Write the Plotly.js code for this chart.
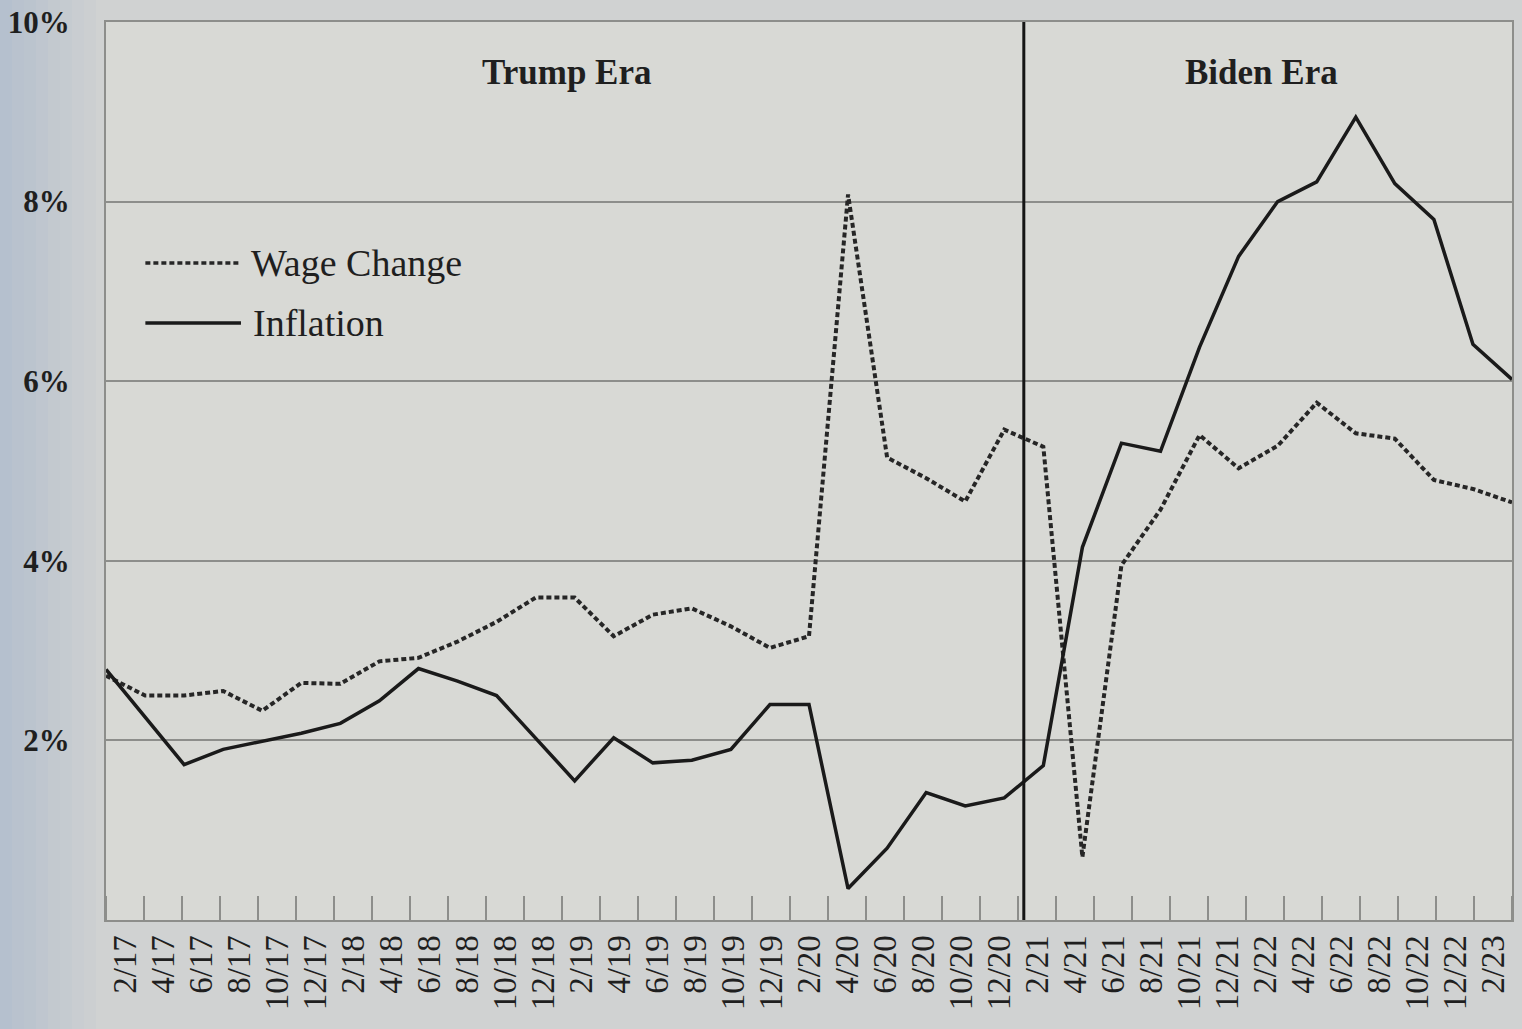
<!DOCTYPE html>
<html>
<head>
<meta charset="utf-8">
<script src="https://cdn.plot.ly/plotly-3.0.1.min.js"></script>
<style>
  html, body { margin: 0; padding: 0; background: #cfd1d2; }
  #chart { width: 1522px; height: 1029px; }
</style>
</head>
<body>
<div id="chart"></div>
<script>
// ---- data ----
const labels = ['2/17','4/17','6/17','8/17','10/17','12/17',
  '2/18','4/18','6/18','8/18','10/18','12/18',
  '2/19','4/19','6/19','8/19','10/19','12/19',
  '2/20','4/20','6/20','8/20','10/20','12/20',
  '2/21','4/21','6/21','8/21','10/21','12/21',
  '2/22','4/22','6/22','8/22','10/22','12/22','2/23'];

const wageChange = [2.72, 2.50, 2.50, 2.55, 2.33, 2.64,
  2.63, 2.88, 2.92, 3.10, 3.32, 3.59,
  3.59, 3.16, 3.40, 3.47, 3.27, 3.03,
  3.16, 8.08, 5.15, 4.92, 4.66, 5.46,
  5.27, 0.70, 3.95, 4.57, 5.40, 5.03,
  5.28, 5.76, 5.42, 5.36, 4.90, 4.80, 4.65];

const inflation = [2.79, 2.26, 1.73, 1.90, 1.99, 2.08,
  2.19, 2.44, 2.80, 2.66, 2.50, 2.03,
  1.55, 2.03, 1.75, 1.78, 1.90, 2.40,
  2.40, 0.35, 0.80, 1.42, 1.27, 1.36,
  1.72, 4.15, 5.31, 5.22, 6.38, 7.39,
  8.00, 8.22, 8.94, 8.20, 7.80, 6.41, 6.02];

const yTickVals = [2, 4, 6, 8, 10];
const yTickText = ['2%', '4%', '6%', '8%', '10%'];
const eraNames = ['Trump Era', 'Biden Era'];
const seriesNames = ['Wage Change', 'Inflation'];

// ---- derived ----
const xs = labels.map((_, i) => i);
const n = labels.length;
const step = (n - 1) / n;
const labelPos = labels.map((_, i) => (i + 0.5) * step);
const tickPos = [];
for (let k = 0; k <= n; k++) tickPos.push(k * step);
const eraSplit = labels.indexOf('2/21') - 0.5;

const serif = 'Liberation Serif, Times New Roman, serif';
const ink = '#1f1f1f';
const grid = '#8d8e8b';

const traces = [
  { x: xs, y: wageChange, name: seriesNames[0], type: 'scatter', mode: 'lines',
    line: { color: '#262626', width: 4, dash: '5px,3px' }, showlegend: false },
  { x: xs, y: inflation, name: seriesNames[1], type: 'scatter', mode: 'lines',
    line: { color: '#1a1a1a', width: 3.5 }, showlegend: false }
];

// soft bluish page edge at the far left (decoration only)
const edgeShapes = [];
const edgeSteps = 8;
for (let s = 0; s < edgeSteps; s++) {
  const px0 = s * 12, px1 = px0 + 12;
  edgeShapes.push({ type: 'rect', xref: 'paper', yref: 'paper',
    x0: (px0 - 106) / 1406, x1: (px1 - 106) / 1406, y0: -0.13, y1: 1.03,
    fillcolor: '#9fb1ca', opacity: 0.55 * (1 - s / edgeSteps),
    line: { width: 0 }, layer: 'below' });
}

const layout = {
  width: 1522, height: 1029,
  paper_bgcolor: '#d0d2d2',
  plot_bgcolor: '#d8d9d5',
  margin: { l: 106, r: 10, t: 22, b: 109 },
  showlegend: false,
  xaxis: {
    range: [0, n - 1],
    showgrid: false, zeroline: false,
    showline: true, mirror: true, linecolor: grid, linewidth: 2,
    tickmode: 'array', tickvals: labelPos, ticktext: labels,
    ticks: '', tickangle: -90,
    tickfont: { family: serif, size: 33, color: ink },
    minor: { tickmode: 'array', tickvals: tickPos, ticks: 'inside',
             ticklen: 24, tickwidth: 2, tickcolor: grid, showgrid: false }
  },
  yaxis: {
    range: [0, 10],
    tickmode: 'array', tickvals: yTickVals, ticktext: yTickText,
    showgrid: true, gridcolor: grid, gridwidth: 2,
    zeroline: false, showline: true, mirror: true, linecolor: grid, linewidth: 2,
    ticks: '', ticklabelstandoff: 28,
    tickfont: { family: serif, size: 31, color: ink, weight: 'bold' }
  },
  shapes: edgeShapes.concat([
    // era divider
    { type: 'line', xref: 'x', yref: 'paper', x0: eraSplit, x1: eraSplit, y0: 0, y1: 1,
      line: { color: '#151515', width: 3 } },
    // legend samples
    { type: 'line', xref: 'paper', yref: 'paper', x0: 0.028, x1: 0.096, y0: 0.7316, y1: 0.7316,
      line: { color: '#262626', width: 3.5, dash: '5px,3px' } },
    { type: 'line', xref: 'paper', yref: 'paper', x0: 0.028, x1: 0.096, y0: 0.6648, y1: 0.6648,
      line: { color: '#1a1a1a', width: 3.5 } }
  ]),
  annotations: [
    { text: eraNames[0], xref: 'paper', yref: 'paper', x: 0.328, y: 0.944,
      showarrow: false, xanchor: 'center', yanchor: 'middle',
      font: { family: serif, size: 35, color: ink, weight: 'bold' } },
    { text: eraNames[1], xref: 'paper', yref: 'paper', x: 0.822, y: 0.944,
      showarrow: false, xanchor: 'center', yanchor: 'middle',
      font: { family: serif, size: 35, color: ink, weight: 'bold' } },
    { text: seriesNames[0], xref: 'paper', yref: 'paper', x: 0.102, y: 0.7316,
      showarrow: false, xanchor: 'left', yanchor: 'middle',
      font: { family: serif, size: 38, color: ink } },
    { text: seriesNames[1], xref: 'paper', yref: 'paper', x: 0.103, y: 0.6648,
      showarrow: false, xanchor: 'left', yanchor: 'middle',
      font: { family: serif, size: 38, color: ink } }
  ]
};

Plotly.newPlot('chart', traces, layout, { staticPlot: true, displayModeBar: false });
</script>
</body>
</html>
